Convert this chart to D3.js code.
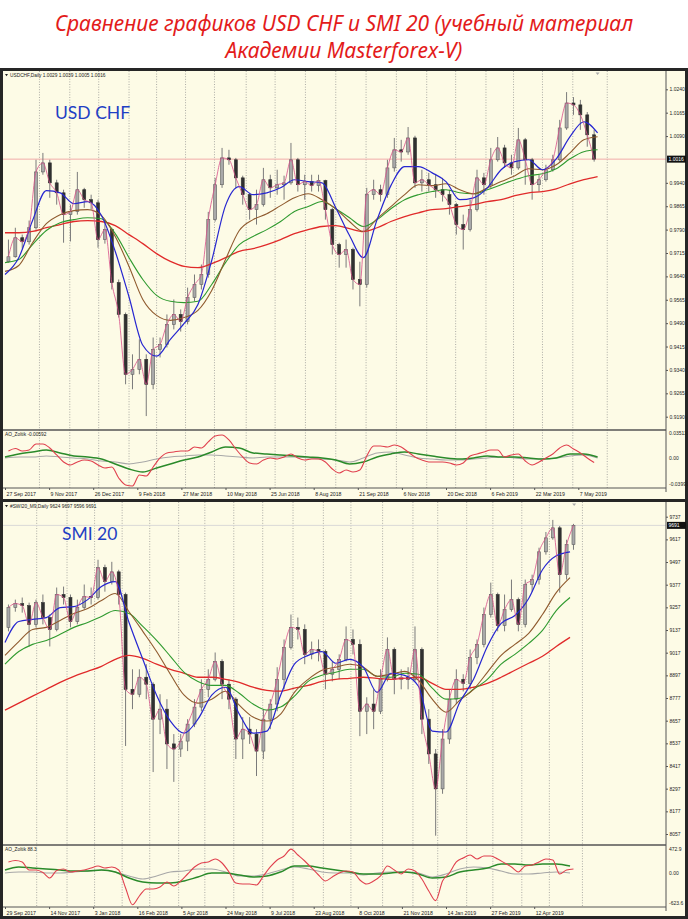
<!DOCTYPE html>
<html><head><meta charset="utf-8">
<script src="https://cdn.jsdelivr.net/npm/d3@7"></script>
<style>body{margin:0;background:#fff}svg{display:block}</style>
</head><body><svg id="c" width="688" height="919"></svg>
<script>
// ---------- USDCHF (weekly bars, day index = 5*i+2.5) ----------
const usdTimeLabels = ["27 Sep 2017","9 Nov 2017","26 Dec 2017","9 Feb 2018","27 Mar 2018","10 May 2018","25 Jun 2018","8 Aug 2018","21 Sep 2018","6 Nov 2018","20 Dec 2018","6 Feb 2019","22 Mar 2019","7 May 2019"];
const usdGridDays = [25,47,68,90,110,131,152,175,196,218,240,262,284,306,327,349,369,390,412,437];
const usdPriceTicks = [1.0240,1.0165,1.0090,0.9940,0.9865,0.9790,0.9715,0.9640,0.9565,0.9490,0.9415,0.9340,0.9265,0.9190];
const usdOpen = [0.9687,0.9703,0.9764,0.9751,0.9796,0.9975,1.0004,0.9940,0.9908,0.9838,0.9848,0.9918,0.9886,0.9876,0.9758,0.9790,0.9620,0.9518,0.9326,0.9342,0.9374,0.9294,0.9406,0.9422,0.9486,0.9518,0.9495,0.9572,0.9614,0.9646,0.9822,0.9934,1.0020,1.0014,0.9956,0.9902,0.9854,0.9870,0.9950,0.9924,0.9934,0.9940,1.0014,0.9934,0.9944,0.9931,0.9947,0.9854,0.9742,0.9710,0.9726,0.9630,0.9614,0.9902,0.9918,0.9902,0.9988,1.0046,1.0039,1.0084,0.9940,0.9950,0.9934,0.9918,0.9902,0.9870,0.9806,0.9790,0.9854,0.9956,0.9934,1.0014,1.0052,1.0004,0.9988,1.0078,1.0014,0.9934,0.9950,0.9982,1.0014,1.0116,1.0196,1.0190,1.0158,1.0094];
const usdHigh = [0.9758,0.9796,0.9774,0.9819,1.0014,1.0036,1.0014,0.9950,0.9918,0.9870,0.9975,0.9924,0.9902,0.9886,0.9822,0.9796,0.9630,0.9524,0.9390,0.9438,0.9390,0.9444,0.9444,0.9518,0.9566,0.9534,0.9604,0.9646,0.9678,0.9847,0.9956,1.0052,1.0046,1.0020,0.9963,0.9908,0.9918,0.9988,0.9966,0.9982,0.9963,1.0068,1.0020,0.9966,0.9966,0.9966,0.9950,0.9860,0.9748,0.9758,0.9732,0.9687,0.9924,0.9950,0.9934,1.0014,1.0084,1.0078,1.0119,1.0091,0.9982,0.9972,0.9966,0.9956,0.9918,0.9876,0.9838,0.9886,0.9982,0.9972,1.0052,1.0087,1.0062,1.0030,1.0116,1.0084,1.0020,0.9966,0.9998,1.0030,1.0142,1.0231,1.0215,1.0206,1.0167,1.0110];
const usdLow = [0.9684,0.9700,0.9729,0.9742,0.9790,0.9966,0.9892,0.9870,0.9748,0.9752,0.9838,0.9860,0.9854,0.9732,0.9745,0.9598,0.9508,0.9294,0.9278,0.9326,0.9192,0.9278,0.9380,0.9412,0.9470,0.9463,0.9486,0.9560,0.9598,0.9636,0.9816,0.9924,0.9998,0.9924,0.9870,0.9822,0.9806,0.9864,0.9892,0.9902,0.9886,0.9934,0.9912,0.9886,0.9912,0.9912,0.9822,0.9710,0.9668,0.9668,0.9598,0.9544,0.9604,0.9886,0.9880,0.9892,0.9976,1.0008,1.0030,0.9924,0.9912,0.9912,0.9892,0.9880,0.9838,0.9774,0.9726,0.9784,0.9848,0.9902,0.9924,1.0008,0.9988,0.9966,0.9982,0.9934,0.9886,0.9912,0.9944,0.9976,1.0008,1.0110,1.0158,1.0110,1.0056,1.0008];
const usdClose = [0.9703,0.9764,0.9751,0.9796,0.9975,1.0004,0.9940,0.9908,0.9838,0.9848,0.9918,0.9886,0.9876,0.9758,0.9790,0.9620,0.9518,0.9326,0.9342,0.9374,0.9294,0.9406,0.9422,0.9486,0.9518,0.9495,0.9572,0.9614,0.9646,0.9822,0.9934,1.0020,1.0014,0.9956,0.9902,0.9854,0.9870,0.9950,0.9924,0.9934,0.9940,1.0014,0.9934,0.9944,0.9931,0.9947,0.9854,0.9742,0.9710,0.9726,0.9630,0.9614,0.9902,0.9918,0.9902,0.9988,1.0046,1.0039,1.0084,0.9940,0.9950,0.9934,0.9918,0.9902,0.9870,0.9806,0.9790,0.9854,0.9956,0.9934,1.0014,1.0052,1.0004,0.9988,1.0078,1.0014,0.9934,0.9950,0.9982,1.0014,1.0116,1.0196,1.0190,1.0158,1.0094,1.0016];
// moving averages, one value every 10 trading days
const usdMaBlue = [0.9646,0.9700,0.9819,0.9915,0.9908,0.9873,0.9880,0.9835,0.9720,0.9574,0.9419,0.9384,0.9438,0.9489,0.9550,0.9691,0.9867,0.9928,0.9902,0.9908,0.9924,0.9950,0.9944,0.9940,0.9860,0.9771,0.9700,0.9822,0.9931,0.9992,0.9992,0.9972,0.9944,0.9886,0.9892,0.9924,0.9982,1.0008,1.0014,0.9982,1.0017,1.0088,1.0136,1.0100];
const usdMaBrown = [0.9656,0.9675,0.9748,0.9809,0.9838,0.9851,0.9854,0.9835,0.9768,0.9672,0.9566,0.9515,0.9499,0.9508,0.9531,0.9595,0.9694,0.9787,0.9822,0.9841,0.9867,0.9892,0.9905,0.9886,0.9857,0.9816,0.9784,0.9825,0.9864,0.9902,0.9934,0.9931,0.9937,0.9918,0.9905,0.9924,0.9944,0.9963,0.9985,0.9982,0.9998,1.0036,1.0078,1.0088];
const usdMaGreen = [0.9684,0.9694,0.9742,0.9787,0.9812,0.9822,0.9828,0.9825,0.9777,0.9700,0.9630,0.9579,0.9560,0.9556,0.9560,0.9614,0.9684,0.9742,0.9768,0.9790,0.9816,0.9848,0.9864,0.9880,0.9857,0.9828,0.9800,0.9822,0.9857,0.9886,0.9902,0.9912,0.9918,0.9908,0.9905,0.9918,0.9934,0.9950,0.9963,0.9969,0.9985,1.0017,1.0040,1.0046];
const usdMaRed = [0.9780,0.9780,0.9784,0.9796,0.9806,0.9816,0.9819,0.9816,0.9803,0.9774,0.9745,0.9713,0.9688,0.9672,0.9668,0.9681,0.9700,0.9720,0.9729,0.9742,0.9758,0.9777,0.9790,0.9800,0.9803,0.9793,0.9784,0.9796,0.9816,0.9832,0.9844,0.9854,0.9857,0.9864,0.9870,0.9880,0.9886,0.9899,0.9908,0.9912,0.9921,0.9937,0.9950,0.9960];
// AO_Zoltik oscillator: main line weekly, the two signal lines every 10 days
const usdAoRed = [0.0101,0.0136,0.0101,0.0115,0.0199,0.0199,0.0143,0.0046,-0.0051,-0.0093,-0.0051,-0.0024,-0.0038,-0.0093,-0.0135,-0.0121,-0.0274,-0.0371,-0.0385,-0.0232,-0.0246,-0.0121,0.0004,0.0074,0.0088,0.0101,0.0101,0.0157,0.0143,0.0227,0.0310,0.0324,0.0254,0.0129,0.0018,-0.0065,-0.0079,-0.0024,0.0004,-0.0010,0.0018,0.0060,0.0004,-0.0024,-0.0010,-0.0010,-0.0051,-0.0149,-0.0204,-0.0163,-0.0190,-0.0163,0.0032,0.0171,0.0171,0.0157,0.0185,0.0157,0.0088,0.0018,-0.0024,-0.0051,-0.0051,-0.0051,-0.0065,-0.0093,-0.0065,0.0032,0.0060,0.0088,0.0115,0.0115,0.0018,0.0046,0.0060,-0.0038,-0.0093,-0.0051,0.0004,0.0060,0.0143,0.0185,0.0129,0.0074,0.0004,-0.0059];
const usdAoGreen = [0.0018,0.0060,0.0088,0.0115,0.0074,0.0032,0.0018,-0.0010,-0.0079,-0.0149,-0.0190,-0.0135,-0.0079,-0.0024,0.0018,0.0088,0.0157,0.0143,0.0074,0.0060,0.0046,0.0032,0.0018,0.0004,-0.0024,-0.0079,-0.0051,0.0018,0.0060,0.0088,0.0060,0.0032,0.0004,-0.0010,0.0004,0.0032,0.0018,0.0018,0.0004,-0.0010,0.0004,0.0060,0.0060,0.0018];
const usdAoGray = [0.0004,0.0018,0.0018,0.0032,0.0018,0.0004,-0.0010,-0.0038,-0.0051,-0.0079,-0.0051,-0.0010,0.0018,0.0032,0.0046,0.0046,0.0032,0.0018,0.0004,0.0018,0.0018,0.0018,0.0004,-0.0010,-0.0024,-0.0051,0.0004,0.0074,0.0088,0.0046,0.0004,-0.0010,-0.0024,-0.0024,-0.0010,0.0004,0.0018,0.0004,-0.0010,-0.0010,0.0004,0.0032,0.0046,0.0004];

// ---------- SMI 20 ----------
const smiTimeLabels = ["29 Sep 2017","14 Nov 2017","3 Jan 2018","16 Feb 2018","5 Apr 2018","24 May 2018","9 Jul 2018","23 Aug 2018","8 Oct 2018","21 Nov 2018","14 Jan 2019","27 Feb 2019","12 Apr 2019"];
const smiGridDays = [23,45,65,85,105,126,145,166,187,209,231,251,274,296,314,335,354,375,395,419];
const smiPriceTicks = [9737,9617,9497,9377,9257,9137,9017,8897,8777,8657,8537,8417,8297,8177,8057];
const smiOpen = [9151,9256,9277,9266,9167,9282,9203,9140,9325,9309,9182,9256,9314,9309,9467,9393,9445,9325,8823,8797,8887,8850,8665,8718,8534,8507,8549,8639,8729,8823,8876,8971,8850,8771,8560,8612,8586,8496,8665,8745,8876,9045,9151,9140,9008,9034,9023,8903,8929,8982,9087,9061,8707,8745,8707,8876,9034,8876,8887,8876,9034,8665,8481,8296,8560,8771,8876,8855,8992,9061,9219,9325,9161,9245,9298,9167,9378,9404,9551,9625,9678,9430,9589];
const smiHigh = [9272,9298,9309,9282,9298,9325,9219,9362,9367,9325,9298,9378,9362,9509,9483,9498,9456,9335,8929,8929,8956,8860,8797,8771,8586,8586,8665,8771,8876,8929,9018,8982,8876,8781,8676,8676,8612,8718,8771,8940,9087,9219,9203,9167,9076,9087,9034,8971,9008,9156,9140,9087,8781,8823,8929,9098,9045,8929,8940,9156,9045,8718,8507,8612,8823,8929,8903,9034,9087,9256,9388,9335,9325,9404,9309,9404,9430,9573,9656,9720,9688,9615,9699];
const smiLow = [9130,9234,9229,9050,9151,9167,9050,9130,9272,9151,9167,9245,9272,9298,9340,9378,9272,8523,8718,8781,8771,8385,8586,8401,8333,8465,8496,8623,8707,8781,8865,8771,8718,8454,8454,8534,8364,8454,8612,8707,8823,9034,9087,8956,8982,8971,8823,8865,8876,8971,9008,8575,8586,8612,8692,8865,8797,8823,8823,8865,8586,8428,8048,8270,8534,8745,8812,8823,8956,9045,9203,9130,9130,9234,9130,9151,9340,9378,9536,9615,9335,9404,9562];
const smiClose = [9256,9277,9266,9167,9282,9203,9140,9325,9309,9182,9256,9314,9309,9467,9393,9445,9325,8823,8797,8887,8850,8665,8718,8534,8507,8549,8639,8729,8823,8876,8971,8850,8771,8560,8612,8586,8496,8665,8745,8876,9045,9151,9140,9008,9034,9023,8903,8929,8982,9087,9061,8707,8745,8707,8876,9034,8876,8887,8876,9034,8665,8481,8296,8560,8771,8876,8855,8992,9061,9219,9325,9161,9245,9298,9167,9378,9404,9551,9625,9678,9430,9589,9691];
const smiMaBlue = [9071,9182,9193,9203,9256,9261,9298,9367,9393,9177,8982,8792,8655,8591,8665,8792,8834,8692,8591,8602,8792,8956,9003,9023,8961,8982,8940,8807,8908,8897,8839,8602,8597,8755,8876,9050,9172,9214,9304,9456,9530,9551];
const smiMaBrown = [9003,9076,9140,9151,9188,9224,9251,9293,9330,9234,9130,9023,8903,8792,8750,8771,8813,8739,8676,8655,8692,8807,8876,8924,8940,8956,8940,8892,8903,8918,8871,8771,8702,8765,8823,8913,9003,9061,9119,9219,9335,9414];
const smiMaGreen = [8956,9023,9061,9082,9114,9151,9177,9209,9240,9224,9156,9082,8998,8913,8865,8844,8844,8802,8745,8713,8729,8787,8865,8897,8913,8929,8929,8892,8887,8908,8903,8829,8771,8776,8823,8876,8956,9008,9066,9135,9240,9309];
const smiMaRed = [8713,8750,8787,8823,8860,8892,8918,8945,8982,9003,8987,8956,8929,8908,8887,8887,8876,8860,8834,8818,8813,8829,8844,8865,8876,8881,8887,8881,8876,8881,8887,8855,8823,8823,8834,8855,8887,8924,8961,8998,9050,9098];
const smiAoRed = [223,252,223,69,69,21,-85,60,89,31,50,69,108,146,108,127,69,-277,-600,-431,-296,-296,-258,-162,-239,-142,-8,127,204,223,281,204,31,-181,-200,-200,-219,-46,127,262,339,470,358,242,108,-27,-142,-65,12,50,31,-123,-200,-142,-46,146,69,-8,89,50,-104,-335,-520,-142,12,223,300,358,281,339,339,281,204,127,31,146,165,223,281,262,-8,69,88.3];
const smiAoGreen = [69,127,108,89,69,50,50,69,31,-85,-162,-181,-181,-142,-65,12,12,-27,-65,-46,31,146,146,108,69,31,-8,-8,12,31,-8,-85,-65,31,69,108,185,185,165,185,185,146];
const smiAoGray = [12,31,31,12,12,31,50,69,31,-46,-104,-46,31,50,89,89,31,-46,-46,-8,69,127,89,31,12,12,-27,12,31,31,12,-65,-8,89,127,108,50,-8,-8,12,31,12];

// ---------- drawing ----------
const svg = d3.select("#c");
const CREAM = "#fdfbe6";
const tinyFont = "'Liberation Sans', Arial, sans-serif";
svg.append("rect").attr("x",0).attr("y",0).attr("width",688).attr("height",919).attr("fill","#fff");
svg.append("rect").attr("x",0).attr("y",68).attr("width",688).attr("height",851).attr("fill","#262626");

// title
const tFont = "'Noto Sans', 'Open Sans', sans-serif";
svg.append("text").attr("x",344).attr("y",31).attr("text-anchor","middle")
  .attr("font-family",tFont).attr("font-style","italic").attr("font-size",21).attr("fill","#e31b1b")
  .text("Сравнение графиков USD CHF и SMI 20 (учебный материал");
svg.append("text").attr("x",344).attr("y",58).attr("text-anchor","middle")
  .attr("font-family",tFont).attr("font-style","italic").attr("font-size",21).attr("fill","#e31b1b")
  .text("Академии Masterforex-V)");

const xs = d3.scaleLinear().domain([0,416]).range([5,578.3]);
const AXX = 666;

function drawWindow(o){
  const g = svg.append("g");
  g.append("rect").attr("x",3).attr("y",o.top).attr("width",682).attr("height",o.bottom-o.top).attr("fill",CREAM);
  const y = d3.scaleLinear().domain(o.yDom).range(o.yRng);
  const yo = d3.scaleLinear().domain(o.oscDom).range(o.oscRng);
  const id = o.id;
  const defs = g.append("defs");
  defs.append("clipPath").attr("id",id+"m").append("rect").attr("x",3).attr("y",o.top).attr("width",AXX-3).attr("height",o.mainBot-o.top);
  defs.append("clipPath").attr("id",id+"o").append("rect").attr("x",3).attr("y",o.mainBot+1).attr("width",AXX-3).attr("height",o.oscBot-o.mainBot-1);

  // vertical month grid
  g.append("g").selectAll("line").data(o.grid).join("line")
    .attr("x1",d=>xs(d)).attr("x2",d=>xs(d)).attr("y1",o.top).attr("y2",o.oscBot)
    .attr("stroke","#8a8a8a").attr("stroke-width",0.7).attr("stroke-dasharray","1,1.6");

  const m = g.append("g").attr("clip-path",`url(#${id}m)`);
  m.append("line").attr("x1",3).attr("x2",AXX).attr("y1",y(o.bid)).attr("y2",y(o.bid))
    .attr("stroke",o.bidColor).attr("stroke-width",0.9);

  const bars = d3.range(o.close.length).map(i=>({d:5*i+2.5,o:o.open[i],h:o.high[i],l:o.low[i],c:o.close[i]}));
  m.append("g").selectAll("line").data(bars).join("line")
    .attr("x1",b=>xs(b.d)).attr("x2",b=>xs(b.d)).attr("y1",b=>y(b.h)).attr("y2",b=>y(b.l))
    .attr("stroke","#7a7a7a").attr("stroke-width",1);
  m.append("g").selectAll("rect").data(bars).join("rect")
    .attr("x",b=>xs(b.d)-1.5).attr("width",3)
    .attr("y",b=>y(Math.max(b.o,b.c))).attr("height",b=>Math.max(1,Math.abs(y(b.o)-y(b.c))))
    .attr("fill",b=>b.c>=b.o?"#a9a9a9":"#303030").attr("stroke",b=>b.c>=b.o?"#5e5e5e":"#303030").attr("stroke-width",0.6);

  const maLine = d3.line().x((v,j)=>xs(10*j)).y(v=>y(v)).curve(d3.curveMonotoneX);
  const maDefs = [[o.maRed,"#e02a2a",1.3],[o.maGreen,"#2f9a2f",1.1],[o.maBrown,"#8f5a2e",1.1],[o.maBlue,"#2626d0",1.2]];
  maDefs.forEach(([arr,col,w])=>m.append("path").attr("d",maLine(arr)).attr("fill","none").attr("stroke",col).attr("stroke-width",w));
  const fast = d3.line().x((v,i)=>xs(5*i+2.5)).y(v=>y(v)).curve(d3.curveMonotoneX);
  m.append("path").attr("d",fast(o.close)).attr("fill","none").attr("stroke","#d8508a").attr("stroke-width",0.9).attr("opacity",0.9);

  // oscillator
  const oc = g.append("g").attr("clip-path",`url(#${id}o)`);
  const oLine10 = d3.line().x((v,j)=>xs(10*j)).y(v=>yo(v)).curve(d3.curveMonotoneX);
  const oLine5 = d3.line().x((v,i)=>xs(5*i+2.5)).y(v=>yo(v)).curve(d3.curveMonotoneX);
  oc.append("path").attr("d",oLine10(o.aoGray)).attr("fill","none").attr("stroke","#a8a8a8").attr("stroke-width",1.1);
  oc.append("path").attr("d",oLine10(o.aoGreen)).attr("fill","none").attr("stroke","#2a8a2a").attr("stroke-width",1.5);
  oc.append("path").attr("d",oLine5(o.aoRed)).attr("fill","none").attr("stroke","#e0404e").attr("stroke-width",1.1);

  // panel borders
  g.append("line").attr("x1",3).attr("x2",AXX).attr("y1",o.mainBot).attr("y2",o.mainBot).attr("stroke","#555").attr("stroke-width",1.6);
  g.append("line").attr("x1",3).attr("x2",AXX).attr("y1",o.oscBot).attr("y2",o.oscBot).attr("stroke","#555").attr("stroke-width",1);
  g.append("line").attr("x1",AXX).attr("x2",AXX).attr("y1",o.top).attr("y2",o.oscBot+4).attr("stroke","#555").attr("stroke-width",1);

  // price axis
  const ay = g.append("g").attr("transform",`translate(${AXX},0)`)
    .call(d3.axisRight(y).tickValues(o.ticks).tickSize(2).tickPadding(1.5).tickFormat(o.fmt));
  ay.select(".domain").remove();
  ay.selectAll("line").attr("stroke","#555");
  ay.selectAll("text").attr("font-family",tinyFont).attr("font-size",5).attr("fill","#222");
  g.append("rect").attr("x",AXX+1).attr("y",y(o.bid)-3.5).attr("width",19).attr("height",7).attr("fill","#111");
  g.append("text").attr("x",AXX+2.5).attr("y",y(o.bid)+1.8).attr("font-family",tinyFont).attr("font-size",5).attr("fill","#fff").text(o.fmt(o.bid));

  // oscillator axis
  const oTicks = [o.oscDom[1],0,o.oscDom[0]];
  const oTxt = [o.oscMaxTxt,"0.00",o.oscMinTxt];
  g.append("g").selectAll("text").data(oTicks).join("text")
    .attr("x",AXX+3).attr("y",(v)=>Math.min(o.oscBot-2.5,Math.max(o.mainBot+4,yo(v)+1.8)))
    .attr("font-family",tinyFont).attr("font-size",5).attr("fill","#222").text((v,i)=>oTxt[i]);

  // time axis
  const ax = g.append("g").attr("transform",`translate(0,${o.oscBot})`)
    .call(d3.axisBottom(xs).tickValues(o.labels.map((l,i)=>32*i)).tickSize(2).tickPadding(2.5).tickFormat((d,i)=>o.labels[i]));
  ax.select(".domain").remove();
  ax.selectAll("line").attr("stroke","#555");
  ax.selectAll("text").attr("text-anchor","start").attr("dx",1).attr("font-family",tinyFont).attr("font-size",5.2).attr("fill","#222");

  // headers
  g.append("path").attr("d",`M5,${o.top+3} l3,0 l-1.5,2.2 z`).attr("fill","#222");
  g.append("text").attr("x",10).attr("y",o.top+5.5).attr("font-family",tinyFont).attr("font-size",4.8).attr("fill","#222").text(o.header);
  g.append("text").attr("x",5).attr("y",o.mainBot+6).attr("font-family",tinyFont).attr("font-size",4.8).attr("fill","#222").text(o.oscHeader);
  g.append("path").attr("d",`M${xs(o.shiftDay)-2},${o.top+1.5} l4,0 l-2,2.5 z`).attr("fill","#aaa");
  g.append("text").attr("x",o.nameX).attr("y",o.nameY).attr("font-family","Lato, 'Open Sans', sans-serif")
    .attr("font-size",17.5).attr("fill","#1f3fc4").text(o.name);
}

drawWindow({id:"u",top:71,bottom:499,mainBot:430,oscBot:488,
  yDom:[0.9190,1.0240],yRng:[416.7,89.3],oscDom:[-0.03993,0.03511],oscRng:[487,433],
  open:usdOpen,high:usdHigh,low:usdLow,close:usdClose,
  maBlue:usdMaBlue,maBrown:usdMaBrown,maGreen:usdMaGreen,maRed:usdMaRed,
  aoRed:usdAoRed,aoGreen:usdAoGreen,aoGray:usdAoGray,
  ticks:usdPriceTicks,fmt:d3.format(".4f"),oscMaxTxt:"0.03511",oscMinTxt:"-0.03993",
  labels:usdTimeLabels,grid:usdGridDays,bid:1.0016,bidColor:"#f0a3a3",
  header:"USDCHF,Daily  1.0029 1.0039 1.0005 1.0016",oscHeader:"AO_Zoltik -0.00592",
  shiftDay:430,name:"USD CHF",nameX:55,nameY:119});

drawWindow({id:"s",top:502,bottom:916,mainBot:845,oscBot:907,
  yDom:[8057,9737],yRng:[834,516.7],oscDom:[-623.6,472.9],oscRng:[906,849],
  open:smiOpen,high:smiHigh,low:smiLow,close:smiClose,
  maBlue:smiMaBlue,maBrown:smiMaBrown,maGreen:smiMaGreen,maRed:smiMaRed,
  aoRed:smiAoRed,aoGreen:smiAoGreen,aoGray:smiAoGray,
  ticks:smiPriceTicks,fmt:d3.format("d"),oscMaxTxt:"472.9",oscMinTxt:"-623.6",
  labels:smiTimeLabels,grid:smiGridDays,bid:9691,bidColor:"#d6d6d6",
  header:"#SWI20_M9,Daily  9624 9697 9596 9691",oscHeader:"AO_Zoltik 88.3",
  shiftDay:413,name:"SMI 20",nameX:62,nameY:540});
</script></body></html>
